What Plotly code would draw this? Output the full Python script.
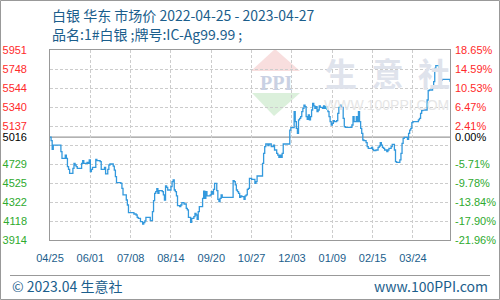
import pandas as pd
import plotly.graph_objects as go

# ---------------- data ----------------
start_date = "2022-04-25"
end_date = "2023-04-27"
base_price = 5016

day_offsets = [0, 1, 2, 3, 10, 11, 14, 15, 16, 17, 18, 21, 22, 23, 24, 25, 29, 30, 31, 34, 35, 36, 37, 38, 39,
               42, 43, 46, 47, 50, 51, 53, 54, 55, 58, 59, 60, 61, 65, 66, 67, 70, 71, 72, 77, 79, 80, 81, 83,
               85, 86, 87, 88, 92, 94, 95, 96, 97, 98, 99, 100, 103, 104, 105, 106, 107, 108, 111, 112, 113,
               114, 115, 116, 117, 119, 120, 121, 123, 125, 126, 127, 129, 130, 132, 133, 134, 135, 136, 137,
               140, 141, 142, 143, 144, 147, 148, 149, 150, 151, 153, 154, 155, 156, 157, 158, 168, 169, 170,
               171, 172, 173, 174, 175, 176, 178, 179, 180, 181, 182, 183, 185, 188, 189, 190, 195, 196, 197,
               198, 200, 201, 203, 205, 206, 208, 209, 210, 211, 212, 213, 214, 220, 221, 224, 225, 226, 227,
               228, 229, 230, 231, 232, 233, 234, 235, 236, 237, 238, 239, 240, 241, 242, 243, 244, 245, 246,
               247, 248, 250, 251, 252, 253, 254, 255, 256, 257, 258, 259, 260, 261, 263, 264, 265, 266, 267,
               268, 269, 270, 271, 277, 278, 279, 281, 282, 283, 284, 285, 286, 287, 288, 290, 291, 292, 295,
               296, 297, 299, 301, 302, 303, 304, 305, 306, 307, 309, 310, 311, 313, 314, 316, 317, 318, 321,
               322, 323, 324, 325, 328, 329, 330, 331, 332, 333, 338, 339, 340, 341, 342, 346, 347, 348, 351,
               352, 353, 354, 357, 358, 359, 360, 367]

prices = [5016, 4980, 4886, 4932, 4861, 4789, 4825, 4789, 4700, 4671, 4629, 4682, 4736, 4718, 4700, 4682, 4736,
          4765, 4736, 4746, 4736, 4772, 4647, 4671, 4693, 4779, 4765, 4754, 4671, 4693, 4622, 4671, 4718, 4729,
          4707, 4664, 4593, 4529, 4521, 4468, 4397, 4343, 4289, 4207, 4193, 4182, 4157, 4146, 4111, 4085, 4100,
          4118, 4157, 4121, 4218, 4336, 4414, 4432, 4464, 4414, 4443, 4432, 4397, 4343, 4493, 4479, 4450, 4486,
          4539, 4557, 4450, 4432, 4386, 4282, 4271, 4289, 4314, 4300, 4253, 4236, 4157, 4103, 4146, 4164, 4200,
          4182, 4135, 4218, 4271, 4360, 4439, 4360, 4432, 4386, 4397, 4432, 4407, 4457, 4521, 4443, 4350, 4325,
          4361, 4397, 4371, 4550, 4539, 4504, 4450, 4432, 4414, 4371, 4386, 4379, 4350, 4386, 4397, 4457, 4468,
          4575, 4564, 4521, 4539, 4600, 4736, 4843, 4915, 4943, 4925, 4943, 4915, 4932, 4879, 4843, 4825, 4800,
          4825, 4800, 4843, 4943, 5093, 5118, 5290, 5183, 5111, 5057, 5201, 5218, 5236, 5290, 5326, 5361, 5343,
          5236, 5208, 5254, 5201, 5236, 5308, 5379, 5352, 5326, 5343, 5290, 5308, 5351, 5336, 5326, 5351, 5326,
          5343, 5315, 5290, 5236, 5183, 5147, 5165, 5193, 5183, 5193, 5272, 5336, 5361, 5343, 5336, 5218, 5129,
          5122, 5147, 5236, 5183, 5236, 5183, 5290, 5183, 5111, 5057, 4986, 4979, 4957, 4915, 4897, 4907, 4886,
          4872, 4879, 4907, 4922, 4957, 4932, 4907, 4897, 4879, 4861, 4879, 4897, 4915, 4940, 4879, 4754, 4747,
          4772, 4843, 4950, 5004, 5015, 4993, 5057, 5093, 5111, 5172, 5183, 5201, 5218, 5272, 5301, 5308, 5415,
          5515, 5522, 5540, 5611, 5754, 5783, 5737, 5611, 5629, 5636, 5611]

price_ticks = [5951, 5748, 5544, 5340, 5137, 5016, 4729, 4525, 4322, 4118, 3914]
price_labels = ["5951", "5748", "5544", "5340", "5137", "5016", "4729", "4525", "4322", "4118", "3914"]
pct_labels = ["18.65%", "14.59%", "10.53%", "6.47%", "2.41%", "0.00%", "-5.71%", "-9.78%", "-13.84%",
              "-17.90%", "-21.96%"]
y_min, y_max = 3914, 5951
grid_step = 203.7

title_line1 = "白银 华东 市场价 2022-04-25 - 2023-04-27"
title_line2 = "品名:1#白银 ;牌号:IC-Ag99.99 ;"
footer_left = "© 2023.04 生意社"
footer_right = "www.100PPI.com"

# ---------------- build ----------------
dates = pd.Timestamp(start_date) + pd.to_timedelta(day_offsets, unit="D")

W, H = 500, 300
ML, MR, MT, MB = 50, 50, 50, 60
PW, PH = W - ML - MR, H - MT - MB


def px2x(px):
    return (px - ML) / PW


def px2y(py):
    return (H - MB - py) / PH


RED, GREEN, BLACK = "#ff2a2a", "#2eaa2e", "#000000"
BLUE_TXT = "#1b5e8c"
GRID = "#cccccc"
FRAME = "#999999"


def colored(labels, vals):
    out = []
    for lab, v in zip(labels, vals):
        c = RED if v > base_price else (BLACK if v == base_price else GREEN)
        out.append(f'<span style="color:{c}">{lab}</span>')
    return out


fig = go.Figure()
fig.add_trace(go.Scatter(x=dates, y=prices, mode="lines", line=dict(color="#3399dd", width=1.3, shape="hv"),
                         showlegend=False, hoverinfo="skip"))
# invisible traces to carry the label axes
for ax in ("y2", "y3"):
    fig.add_trace(go.Scatter(x=dates, y=prices, yaxis=ax, mode="lines", line=dict(width=0), opacity=0,
                             showlegend=False, hoverinfo="skip"))

tickfont = dict(family="Liberation Sans", size=11)

fig.update_layout(
    width=W, height=H, margin=dict(l=ML, r=MR, t=MT, b=MB, autoexpand=False),
    paper_bgcolor="white", plot_bgcolor="white",
    showlegend=False,
    xaxis=dict(type="date", range=[start_date, end_date], tick0=start_date, dtick=37 * 86400000,
               tickformat="%m/%d", showgrid=True, gridcolor=GRID, griddash="3px,2px", gridwidth=1,
               showline=True, mirror=True, linecolor=FRAME, linewidth=1, ticks="",
               tickfont=dict(family="Liberation Sans", size=11, color=BLUE_TXT), ticklabelstandoff=8,
               zeroline=False, automargin=False),
    yaxis=dict(range=[y_min, y_max], tick0=y_min, dtick=grid_step, tickmode="linear", showticklabels=False,
               showgrid=True, gridcolor=GRID, griddash="3px,2px", gridwidth=1, ticks="",
               showline=True, mirror=True, linecolor=FRAME, linewidth=1, zeroline=False, automargin=False),
    yaxis2=dict(range=[y_min, y_max], overlaying="y", side="left", tickmode="array", tickvals=price_ticks,
                ticktext=colored(price_labels, price_ticks), showgrid=False, zeroline=False, ticks="",
                tickfont=tickfont, ticklabelstandoff=22, showline=False, automargin=False),
    yaxis3=dict(range=[y_min, y_max], overlaying="y", side="right", tickmode="array", tickvals=price_ticks,
                ticktext=colored(pct_labels, price_ticks), showgrid=False, zeroline=False, ticks="",
                tickfont=tickfont, ticklabelstandoff=4, showline=False, automargin=False),
)

shapes = []
# watermark logo
shapes.append(dict(type="path", xref="paper", yref="paper", layer="below",
                   path=f"M {px2x(251)} {px2y(71)} L {px2x(275)} {px2y(49)} L {px2x(300)} {px2y(71)} Z",
                   fillcolor="#f8dede", line=dict(width=0)))
shapes.append(dict(type="path", xref="paper", yref="paper", layer="below",
                   path=f"M {px2x(252)} {px2y(93)} L {px2x(300)} {px2y(93)} L {px2x(274)} {px2y(116)} Z",
                   fillcolor="#dbf0db", line=dict(width=0)))
# base price line
shapes.append(dict(type="line", xref="paper", yref="y", x0=0, x1=1, y0=base_price, y1=base_price,
                   line=dict(color=FRAME, width=1.2), layer="below"))
# footer separator
shapes.append(dict(type="line", xref="paper", yref="paper", x0=px2x(10), x1=px2x(490), y0=px2y(275.5),
                   y1=px2y(275.5), line=dict(color=FRAME, width=1)))
# outer frame
shapes.append(dict(type="rect", xref="paper", yref="paper", x0=px2x(0.5), x1=px2x(499.5), y0=px2y(299.5),
                   y1=px2y(0.5), line=dict(color=FRAME, width=1)))
fig.update_layout(shapes=shapes)

cjk = "Noto Sans CJK SC"
ann = [
    dict(text=title_line1, x=px2x(50), y=px2y(15), xanchor="left", yanchor="middle",
         font=dict(family=cjk, size=14, color=BLUE_TXT)),
    dict(text=title_line2, x=px2x(50), y=px2y(34), xanchor="left", yanchor="middle",
         font=dict(family=cjk, size=14, color=BLUE_TXT)),
    dict(text=footer_left, x=px2x(10), y=px2y(286), xanchor="left", yanchor="middle",
         font=dict(family=cjk, size=14, color=BLUE_TXT)),
    dict(text=footer_right, x=px2x(490), y=px2y(286), xanchor="right", yanchor="middle",
         font=dict(family=cjk, size=14, color=BLUE_TXT)),
    dict(text="<b>生  意  社</b>", x=px2x(387), y=px2y(72), xanchor="center", yanchor="middle",
         font=dict(family=cjk, size=32, color="#dfe3ec")),
    dict(text="WWW.100PPI.COM", x=px2x(386), y=px2y(105), xanchor="center", yanchor="middle",
         font=dict(family="Liberation Sans", size=14, color="#e6e6e6")),
    dict(text="<b>PPI</b>", x=px2x(276), y=px2y(83), xanchor="center", yanchor="middle",
         font=dict(family="Liberation Serif", size=20, color="#c9d1e3")),
]
for a in ann:
    a.update(xref="paper", yref="paper", showarrow=False)
fig.update_layout(annotations=ann)

fig.write_html("out.html")
